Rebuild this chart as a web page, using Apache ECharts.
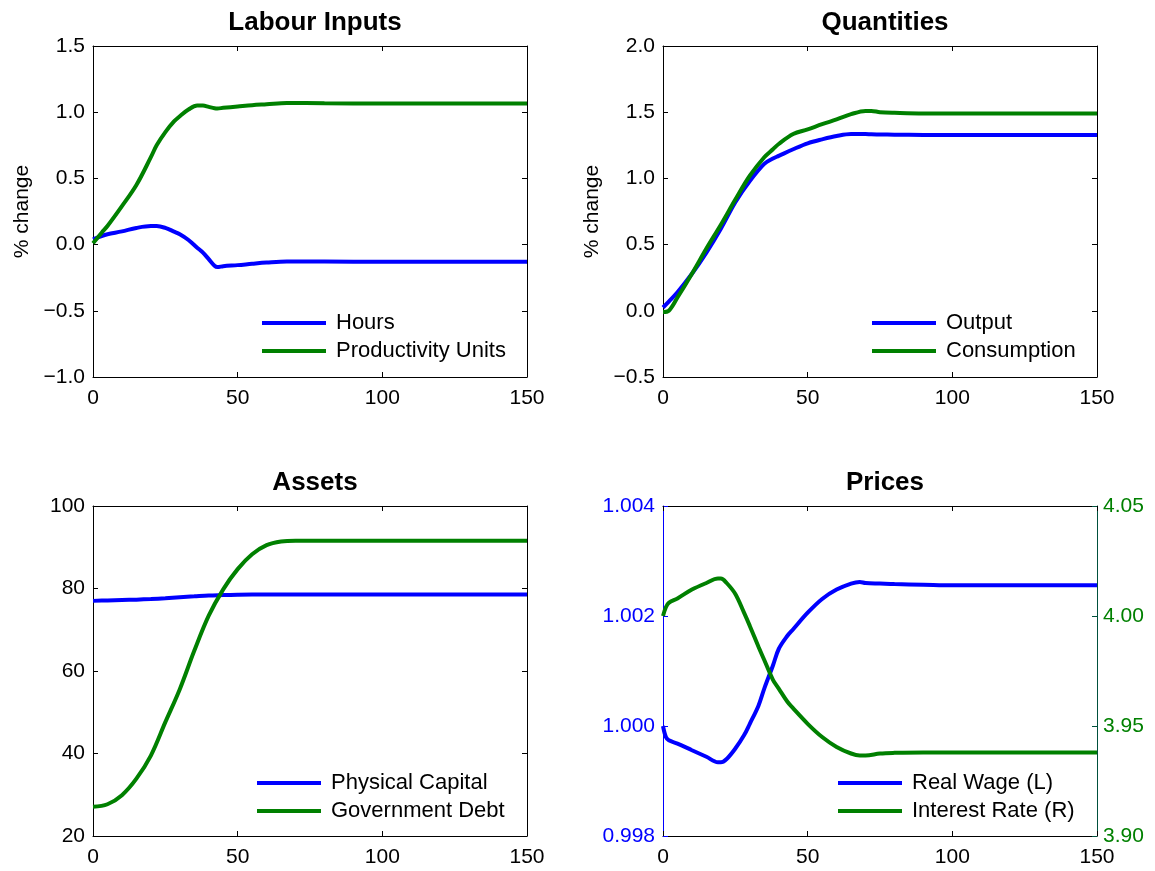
<!DOCTYPE html>
<html>
<head>
<meta charset="utf-8">
<script src="https://cdn.jsdelivr.net/npm/echarts@6/dist/echarts.min.js"></script>
<style>html,body{margin:0;padding:0;background:#fff;}#c{width:1155px;height:871px;}</style>
</head>
<body>
<div id="c"></div>
<script>
// ---- Labour Inputs ----
var labourX = [0,3,5,10,15,20,22,25,28,30,33,36,38,40,42,43,45,50,55,60,67,80,100,150];
var hours = [0.04,0.065,0.078,0.10,0.126,0.14,0.14,0.126,0.098,0.078,0.035,-0.023,-0.06,-0.11,-0.16,-0.17,-0.163,-0.155,-0.145,-0.136,-0.128,-0.128,-0.13,-0.13];
var productivity = [0.01,0.09,0.14,0.29,0.45,0.66,0.75,0.85,0.93,0.97,1.02,1.05,1.05,1.04,1.03,1.028,1.033,1.043,1.053,1.06,1.07,1.068,1.065,1.065];
// ---- Quantities ----
var quantX = [0,2,5,10,15,20,25,30,35,38,40,45,50,55,60,65,70,72,75,80,90,100,150];
var output = [0.025,0.07,0.14,0.28,0.44,0.62,0.82,0.98,1.11,1.15,1.17,1.22,1.265,1.295,1.32,1.335,1.335,1.333,1.332,1.33,1.328,1.327,1.327];
var consumption = [-0.01,0.0,0.10,0.28,0.47,0.65,0.84,1.02,1.16,1.22,1.26,1.335,1.37,1.41,1.445,1.485,1.51,1.51,1.50,1.495,1.49,1.49,1.49];
// ---- Assets ----
var assetX = [0,5,10,15,20,25,30,35,40,45,50,55,60,65,70,80,100,150];
var capital = [77.0,77.1,77.2,77.3,77.45,77.65,77.9,78.1,78.3,78.4,78.5,78.55,78.55,78.55,78.55,78.55,78.55,78.55];
var debt = [27.1,27.7,29.9,33.9,39.5,47.6,55.6,64.9,73.4,79.8,84.7,88.3,90.5,91.4,91.6,91.6,91.6,91.6];
// ---- Prices ----
var priceX = [0,1,2,5,10,15,19,20,22,25,28,30,33,35,38,40,43,45,50,55,60,65,68,70,75,80,90,100,150];
var wage = [1.0000,0.9998,0.99974,0.99968,0.99956,0.99944,0.99934,0.99934,0.9994,0.99959,0.99983,1.00004,1.00037,1.00068,1.0011,1.0014,1.00164,1.00176,1.00206,1.00231,1.00248,1.00259,1.00262,1.0026,1.00259,1.00258,1.00257,1.00256,1.00256];
var rate = [4.000,4.004,4.006,4.008,4.012,4.015,4.017,4.017,4.015,4.010,4.0015,3.9955,3.986,3.980,3.971,3.967,3.961,3.958,3.951,3.945,3.9405,3.9375,3.9366,3.9366,3.9375,3.9378,3.938,3.938,3.938];

var titles = ['Labour Inputs','Quantities','Assets','Prices'];
var xTicks = {min:0, max:150, interval:50};

var FONT = 'Liberation Sans, Arial, Helvetica, sans-serif';
var BLUE = '#0000ff', GREEN = '#008000';
var TICKFS = 21, LEGFS = 22;

function fmt(d){ return function(v){ return (v < -1e-12 ? '\u2212' : '') + Math.abs(v).toFixed(d); }; }
function pairs(xs, ys){ return xs.map(function(x,i){ return [x, ys[i]]; }); }

var grids = [
  {left:93, top:46, width:434, height:331},
  {left:663, top:46, width:434, height:331},
  {left:93, top:506, width:434, height:330},
  {left:663, top:506, width:434, height:330}
];

var xAxes = [], yAxes = [];
grids.forEach(function(g, i){
  xAxes.push({type:'value', gridIndex:i, position:'bottom', min:xTicks.min, max:xTicks.max, interval:xTicks.interval,
    axisLine:{show:true, onZero:false, lineStyle:{color:'#000', width:1}},
    axisTick:{show:true, inside:true, length:5, lineStyle:{color:'#000'}},
    axisLabel:{show:true, fontSize:TICKFS, fontFamily:FONT, color:'#000', margin:11},
    splitLine:{show:false}});
  xAxes.push({type:'value', gridIndex:i, position:'top', min:xTicks.min, max:xTicks.max, interval:xTicks.interval,
    axisLine:{show:true, onZero:false, lineStyle:{color:'#000', width:1}},
    axisTick:{show:true, inside:true, length:5, lineStyle:{color:'#000'}},
    axisLabel:{show:false}, splitLine:{show:false}});
});

function yPair(i, min, max, interval, dec, name){
  var left = {type:'value', gridIndex:i, position:'left', min:min, max:max, interval:interval,
    axisLine:{show:true, onZero:false, lineStyle:{color:'#000', width:1}},
    axisTick:{show:true, inside:true, length:5, lineStyle:{color:'#000'}},
    axisLabel:{show:true, fontSize:TICKFS, fontFamily:FONT, color:'#000', margin:8, formatter:fmt(dec)},
    splitLine:{show:false}};
  if (name) {
    left.name = name; left.nameLocation = 'middle'; left.nameGap = 60; left.nameRotate = 90;
    left.nameTextStyle = {fontSize:21, fontFamily:FONT, color:'#000'};
  }
  var right = {type:'value', gridIndex:i, position:'right', min:min, max:max, interval:interval,
    axisLine:{show:true, onZero:false, lineStyle:{color:'#000', width:1}},
    axisTick:{show:true, inside:true, length:5, lineStyle:{color:'#000'}},
    axisLabel:{show:false}, splitLine:{show:false}};
  yAxes.push(left); yAxes.push(right);
}
yPair(0, -1, 1.5, 0.5, 1, '% change');
yPair(1, -0.5, 2.0, 0.5, 1, '% change');
yPair(2, 20, 100, 20, 0, null);
// Prices: two scales
yAxes.push({type:'value', gridIndex:3, position:'left', min:0.998, max:1.004, interval:0.002,
  axisLine:{show:true, onZero:false, lineStyle:{color:BLUE, width:1}},
  axisTick:{show:true, inside:true, length:5, lineStyle:{color:BLUE}},
  axisLabel:{show:true, fontSize:TICKFS, fontFamily:FONT, color:BLUE, margin:8, formatter:fmt(3)},
  splitLine:{show:false}});
yAxes.push({type:'value', gridIndex:3, position:'right', min:3.90, max:4.05, interval:0.05,
  axisLine:{show:true, onZero:false, lineStyle:{color:'#00503c', width:1}},
  axisTick:{show:true, inside:true, length:5, lineStyle:{color:'#00503c'}},
  axisLabel:{show:true, fontSize:TICKFS, fontFamily:FONT, color:GREEN, margin:6, formatter:fmt(2)},
  splitLine:{show:false}});

function line(name, xs, ys, color, gi, yi){
  return {name:name, type:'line', xAxisIndex:gi*2, yAxisIndex:yi, data:pairs(xs, ys),
    symbol:'none', showSymbol:false, smooth:0.35,
    lineStyle:{color:color, width:4}, itemStyle:{color:color}, silent:true};
}

var series = [
  line('Hours', labourX, hours, BLUE, 0, 0),
  line('Productivity Units', labourX, productivity, GREEN, 0, 0),
  line('Output', quantX, output, BLUE, 1, 2),
  line('Consumption', quantX, consumption, GREEN, 1, 2),
  line('Physical Capital', assetX, capital, BLUE, 2, 4),
  line('Government Debt', assetX, debt, GREEN, 2, 4),
  line('Real Wage (L)', priceX, wage, BLUE, 3, 6),
  line('Interest Rate (R)', priceX, rate, GREEN, 3, 7)
];

function legend(names, left, top){
  return {data:names, orient:'vertical', left:left, top:top, itemWidth:64, itemHeight:4, icon:'rect',
    itemGap:6, padding:0, selectedMode:false,
    textStyle:{fontSize:LEGFS, fontFamily:FONT, color:'#000', padding:[0,0,0,5]}};
}

var titleCenters = [[310,5],[880,5],[310,465],[880,465]];
var option = {
  animation:false,
  backgroundColor:'#fff',
  title: titles.map(function(t,i){ return {text:t, left:titleCenters[i][0], top:titleCenters[i][1], textAlign:'center',
    textStyle:{fontSize:26, fontWeight:'bold', fontFamily:FONT, color:'#000'}}; }),
  grid: grids,
  xAxis: xAxes,
  yAxis: yAxes,
  legend: [
    legend(['Hours','Productivity Units'], 262, 312),
    legend(['Output','Consumption'], 872, 312),
    legend(['Physical Capital','Government Debt'], 257, 772),
    legend(['Real Wage (L)','Interest Rate (R)'], 838, 772)
  ],
  series: series
};
var chart = echarts.init(document.getElementById('c'), null, {renderer:'canvas'});
chart.setOption(option);
</script>
</body>
</html>
